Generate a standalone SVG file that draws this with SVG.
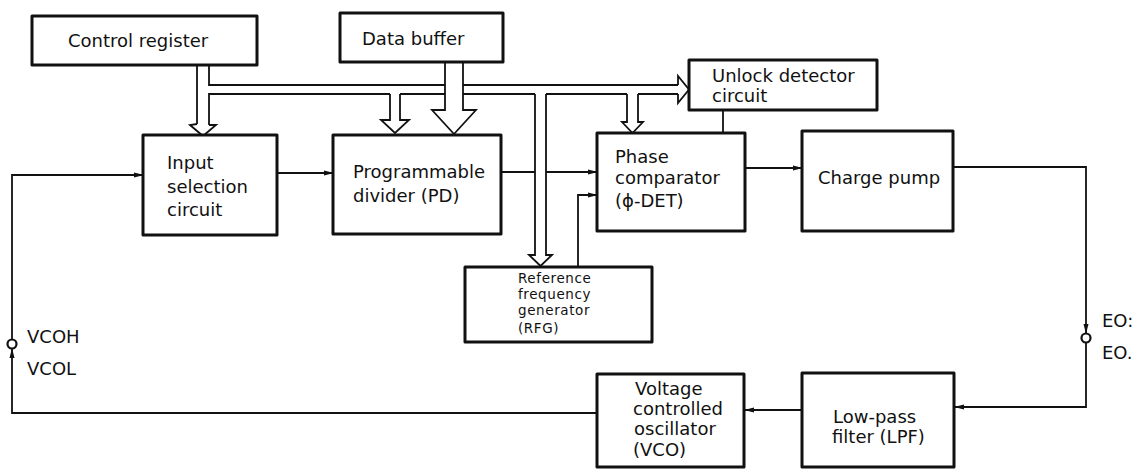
<svg xmlns="http://www.w3.org/2000/svg" width="1138" height="470" viewBox="0 0 1138 470">
<defs>
<style>
.box{fill:#fff;stroke:#111;stroke-width:3;stroke-linejoin:round}
.ln{fill:none;stroke:#111;stroke-width:1.8}
.bus{fill:#fff;stroke:#111;stroke-width:1.8;stroke-linejoin:miter}
.t{font-family:"DejaVu Sans",sans-serif;font-size:18px;fill:#111}
.s{font-family:"DejaVu Sans",sans-serif;font-size:13.5px;letter-spacing:0.6px;fill:#111}
.sw{fill:#fff;stroke:#111;stroke-width:2.2}
</style>
<marker id="ah" viewBox="0 0 10 6" refX="9" refY="3" markerWidth="10" markerHeight="6" markerUnits="userSpaceOnUse" orient="auto">
<path d="M0,0.5 L10,3 L0,5.5 z" fill="#111"/>
</marker>
</defs>
<rect width="1138" height="470" fill="#fff"/>

<g id="connectors">
<path class="ln" d="M197,65 V125 M209,65 V85 H678 M209,125 V94 H390 M400,94 H535 M546,94 H627 M638,94 H678"/>
<path class="bus" d="M197,124 L190,125 L203,136 L216,125 L209,125"/>
<path class="bus" d="M390,94 V120 H381 L395,133 L409,120 H400 V94"/>
<path class="bus" d="M535,94 V255 H529 L540.5,266 L552,255 H546 V94"/>
<path class="bus" d="M627,94 V122 H622 L632.5,133 L643,122 H638 V94"/>
<path class="bus" d="M678,85 V76 L689,89.5 L678,103 V94"/>
<path class="bus" d="M445,62 V110 H432 L454,134 L476,110 H463 V62"/>
<path class="ln" d="M277,173 H333" marker-end="url(#ah)"/>
<path class="ln" d="M501,172 H535"/>
<path class="ln" d="M546,172 H597" marker-end="url(#ah)"/>
<path class="ln" d="M578,267 V195 H597" marker-end="url(#ah)"/>
<path class="ln" d="M723,110 V133"/>
<path class="ln" d="M745,168 H802" marker-end="url(#ah)"/>
<path class="ln" d="M953,167 H1086 V333" marker-end="url(#ah)"/>
<circle class="sw" cx="1086" cy="338" r="4.5"/>
<path class="ln" d="M1086,343 V407 H955" marker-end="url(#ah)"/>
<path class="ln" d="M802,410 H745" marker-end="url(#ah)"/>
<path class="ln" d="M597,413 H12 V349" marker-end="url(#ah)"/>
<circle class="sw" cx="12" cy="344" r="4.5"/>
<path class="ln" d="M12,339 V175 H143" marker-end="url(#ah)"/>
</g>

<g id="control-register">
<rect class="box" x="32" y="16" width="225" height="49"/>
<text class="t" x="68" y="47">Control register</text>
</g>
<g id="data-buffer">
<rect class="box" x="340" y="13" width="163" height="49"/>
<text class="t" x="362" y="45">Data buffer</text>
</g>
<g id="unlock-detector">
<rect class="box" x="689" y="60" width="188" height="50"/>
<text class="t" x="712" y="82">Unlock detector</text>
<text class="t" x="712" y="102">circuit</text>
</g>
<g id="input-selection">
<rect class="box" x="143" y="135" width="134" height="100"/>
<text class="t" x="167" y="169">Input</text>
<text class="t" x="167" y="193">selection</text>
<text class="t" x="167" y="216">circuit</text>
</g>
<g id="programmable-divider">
<rect class="box" x="333" y="135" width="168" height="99"/>
<text class="t" x="353" y="178">Programmable</text>
<text class="t" x="353" y="202">divider (PD)</text>
</g>
<g id="phase-comparator">
<rect class="box" x="597" y="133" width="148" height="98"/>
<text class="t" x="615" y="163">Phase</text>
<text class="t" x="615" y="184">comparator</text>
<text class="t" x="615" y="207">(ϕ-DET)</text>
</g>
<g id="charge-pump">
<rect class="box" x="802" y="131" width="151" height="100"/>
<text class="t" x="818" y="184">Charge pump</text>
</g>
<g id="rfg">
<rect class="box" x="465" y="267" width="187" height="75"/>
<text class="s" x="518" y="283">Reference</text>
<text class="s" x="518" y="299">frequency</text>
<text class="s" x="518" y="315">generator</text>
<text class="s" x="518" y="333">(RFG)</text>
</g>
<g id="vco">
<rect class="box" x="597" y="374" width="147" height="93"/>
<text class="t" x="635" y="395">Voltage</text>
<text class="t" x="633" y="415">controlled</text>
<text class="t" x="634" y="435">oscillator</text>
<text class="t" x="633" y="456">(VCO)</text>
</g>
<g id="lpf">
<rect class="box" x="802" y="373" width="152" height="94"/>
<text class="t" x="833" y="423">Low-pass</text>
<text class="t" x="832" y="443">filter (LPF)</text>
</g>
<g id="labels">
<text class="t" x="27" y="343">VCOH</text>
<text class="t" x="27" y="375">VCOL</text>
<text class="t" x="1102" y="327">EO:</text>
<text class="t" x="1102" y="359">EO.</text>
</g>
</svg>
